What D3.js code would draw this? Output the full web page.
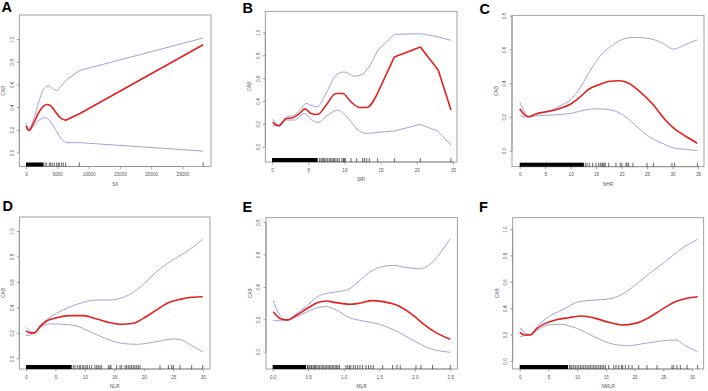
<!DOCTYPE html>
<html>
<head>
<meta charset="utf-8">
<script src="https://cdn.jsdelivr.net/npm/d3@7"></script>
<style>
  body { margin: 0; background: #fff; }
  svg { display: block; font-family: "Liberation Sans", Arial, sans-serif; }
</style>
</head>
<body>
<div id="chart"></div>
<script>
// ---- data: [x, y] pairs for fit and 95% band, rug positions ----

// A: SII
const aFit = [[0,0.234],[480,0.195],[1170,0.254],[2230,0.37],[3300,0.423],[3830,0.417],[4630,0.364],[5430,0.308],[6330,0.284],[8620,0.343],[28300,0.95]];
const aUpper = [[0,0.263],[480,0.21],[1170,0.284],[2130,0.46],[2770,0.556],[3560,0.586],[4250,0.565],[5000,0.544],[5430,0.574],[6490,0.639],[8510,0.722],[28300,1.009]];
const aLower = [[0,0.215],[480,0.19],[1170,0.23],[1970,0.278],[3030,0.308],[3560,0.293],[4630,0.21],[5430,0.136],[6330,0.086],[8620,0.086],[28300,0.012]];
const aDense = [0, 2800];
const aRug = [3030,3300,3720,3940,4200,4520,4890,5160,5320,5690,5960,6330,8510,28300];

// B: SRI
const bFit = [[0.09,0.212],[0.92,0.183],[1.93,0.244],[2.85,0.253],[3.78,0.29],[4.56,0.331],[5.39,0.29],[6.31,0.282],[7.46,0.363],[8.84,0.465],[9.76,0.465],[10.91,0.392],[12.06,0.343],[13.12,0.343],[14.6,0.47],[16.9,0.785],[20.49,0.872],[22.97,0.669],[24.72,0.32]];
const bUpper = [[0.09,0.238],[0.92,0.189],[1.93,0.256],[3.08,0.276],[4.01,0.334],[4.7,0.378],[5.39,0.363],[6.22,0.349],[7.46,0.465],[8.84,0.625],[9.99,0.654],[11.37,0.616],[12.29,0.625],[13.21,0.683],[14.6,0.843],[16.9,0.983],[20.58,0.988],[22.65,0.965],[24.72,0.93]];
const bLower = [[0.09,0.186],[0.92,0.18],[1.93,0.233],[3.08,0.233],[4.47,0.29],[5.39,0.238],[6.31,0.212],[7.69,0.276],[9.07,0.32],[9.99,0.285],[11.14,0.198],[12.06,0.137],[13.12,0.116],[14.6,0.125],[16.9,0.137],[20.44,0.195],[22.88,0.137],[24.72,0.015]];
const bDense = [0, 6.3];
const bRug = [6.54,6.77,6.91,7.09,7.27,7.46,7.69,7.92,8.1,8.29,8.47,8.66,8.84,9.07,9.3,9.67,9.85,9.99,10.13,10.91,11.69,12.52,12.75,13.08,13.44,14.6,16.9,20.49,24.72];

// C: NHR
const cFit = [[0,0.248],[0.98,0.212],[1.9,0.202],[3.07,0.216],[4.38,0.226],[6.34,0.236],[7.98,0.251],[9.94,0.275],[11.58,0.311],[13.54,0.364],[15.5,0.39],[17.46,0.41],[19.42,0.414],[21.39,0.4],[23.35,0.356],[25.96,0.281],[28.58,0.182],[30.22,0.133],[32.5,0.087],[34.86,0.044]];
const cUpper = [[0,0.287],[0.78,0.242],[1.77,0.198],[3.07,0.216],[4.38,0.228],[6.34,0.242],[8.31,0.271],[9.94,0.301],[11.58,0.36],[13.54,0.459],[15.5,0.549],[17.46,0.608],[19.42,0.648],[21.06,0.667],[22.7,0.671],[25.96,0.661],[27.93,0.638],[30.22,0.602],[32.5,0.628],[34.86,0.657]];
const cLower = [[0,0.208],[1.77,0.198],[3.07,0.206],[5.69,0.21],[7.98,0.214],[10.27,0.222],[12.88,0.242],[14.85,0.248],[16.81,0.246],[19.42,0.226],[21.39,0.186],[23.35,0.133],[25.96,0.073],[28.25,0.04],[30.22,0.016],[32.5,0.008],[34.86,0.0]];
const cDense = [0, 12.6];
const cRug = [12.88,13.21,13.67,14.32,14.98,15.5,15.83,16.15,16.35,16.55,16.81,17.46,18.9,19.75,20.08,20.86,21.06,21.39,22.24,24.98,26.29,29.89,30.41,34.92];

// D: NLR
const dFit = [[0,0.215],[0.68,0.2],[1.41,0.2],[2.38,0.249],[3.51,0.293],[5.21,0.319],[7.47,0.335],[9.73,0.335],[12.0,0.309],[14.26,0.28],[16.24,0.267],[18.22,0.275],[19.92,0.314],[22.18,0.38],[24.17,0.437],[26.15,0.463],[28.13,0.479],[30.0,0.484]];
const dUpper = [[0,0.243],[0.68,0.215],[1.41,0.2],[2.38,0.257],[4.07,0.322],[6.34,0.38],[9.17,0.432],[12.0,0.458],[14.26,0.458],[15.96,0.471],[17.94,0.51],[19.92,0.581],[22.18,0.681],[24.45,0.759],[27.28,0.838],[30.0,0.935]];
const dLower = [[0,0.178],[0.68,0.183],[1.41,0.196],[2.38,0.241],[4.07,0.27],[6.34,0.267],[8.6,0.254],[10.87,0.209],[13.7,0.152],[16.24,0.118],[18.79,0.11],[22.18,0.131],[25.0,0.152],[26.43,0.144],[28.13,0.099],[30.0,0.052]];
const dDense = [0, 7.75];
const dRug = [8.04,8.32,8.72,9.05,9.28,9.62,9.85,10.19,10.41,10.75,11.15,11.71,12.0,12.28,12.56,12.85,13.98,14.26,14.43,15.39,15.96,16.24,16.81,17.09,17.37,17.66,17.94,18.22,18.51,18.79,19.07,19.35,22.75,24.17,24.73,25.01,26.15,28.13,30.0];

// E: MLR
const eFit = [[0.009,0.247],[0.117,0.202],[0.211,0.196],[0.328,0.223],[0.492,0.268],[0.633,0.303],[0.75,0.313],[0.891,0.303],[1.079,0.293],[1.22,0.299],[1.407,0.315],[1.548,0.309],[1.735,0.289],[1.97,0.227],[2.111,0.175],[2.275,0.124],[2.5,0.076]];
const eUpper = [[0.009,0.313],[0.117,0.216],[0.211,0.196],[0.328,0.231],[0.469,0.278],[0.633,0.34],[0.774,0.361],[0.938,0.371],[1.079,0.388],[1.22,0.437],[1.36,0.489],[1.501,0.52],[1.689,0.532],[1.876,0.52],[2.064,0.511],[2.251,0.553],[2.392,0.629],[2.5,0.697]];
const eLower = [[0.009,0.192],[0.141,0.19],[0.235,0.196],[0.375,0.223],[0.516,0.252],[0.657,0.274],[0.75,0.278],[0.891,0.258],[1.079,0.21],[1.266,0.19],[1.501,0.169],[1.735,0.128],[1.97,0.072],[2.205,0.021],[2.5,-0.004]];
const eDense = [0, 0.47];
const eRug = [0.49,0.5,0.52,0.54,0.55,0.57,0.59,0.6,0.62,0.64,0.66,0.68,0.7,0.72,0.74,0.76,0.78,0.8,0.82,0.84,0.86,0.88,0.9,0.92,0.94,1.03,1.055,1.08,1.1,1.135,1.163,1.196,1.229,1.266,1.313,1.35,1.384,1.417,1.548,1.689,1.75,1.796,2.017,2.087,2.251,2.5];

// F: NMLR
const fFit = [[0,0.217],[0.87,0.197],[1.86,0.197],[3.02,0.247],[4.47,0.285],[6.21,0.311],[8.53,0.328],[10.85,0.341],[13.17,0.323],[15.5,0.293],[17.82,0.273],[20.14,0.285],[22.46,0.328],[24.78,0.391],[27.1,0.449],[29.14,0.475],[30.99,0.487]];
const fUpper = [[0,0.255],[0.87,0.215],[1.86,0.202],[3.02,0.26],[5.05,0.336],[7.37,0.386],[10.27,0.449],[13.17,0.462],[15.5,0.47],[17.82,0.505],[20.14,0.576],[22.46,0.659],[25.36,0.753],[28.26,0.854],[30.99,0.922]];
const fLower = [[0,0.184],[0.87,0.192],[1.86,0.197],[3.02,0.235],[5.05,0.273],[6.79,0.278],[9.11,0.26],[11.43,0.217],[13.76,0.167],[16.08,0.129],[18.98,0.116],[21.88,0.134],[24.78,0.152],[27.1,0.159],[29.14,0.109],[30.99,0.071]];
const fDense = [0, 8.4];
const fRug = [8.65,8.88,9.11,9.4,9.69,9.98,10.27,10.56,10.85,11.14,11.43,11.72,12.01,12.3,12.59,12.88,13.17,13.46,13.76,14.05,14.34,14.63,14.92,15.5,16.37,16.77,17.24,17.7,17.93,18.4,18.98,19.56,20.72,22.17,23.91,26.52,26.81,27.39,27.97,29.14,30.99];

// tick values
const aXTicks = [0, 5000, 10000, 15000, 20000, 25000];
const bXTicks = [0, 5, 10, 15, 20, 25];
const cXTicks = [0, 5, 10, 15, 20, 25, 30, 35];
const dXTicks = [0, 5, 10, 15, 20, 25, 30];
const eXTicks = [0, 0.5, 1.0, 1.5, 2.0, 2.5];
const fXTicks = [0, 5, 10, 15, 20, 25, 30];
const yTicks10 = [0, 0.2, 0.4, 0.6, 0.8, 1.0];
const yTicks08 = [0, 0.2, 0.4, 0.6, 0.8];

const W = 708, H = 391;
const svg = d3.select("#chart").append("svg").attr("width", W).attr("height", H);

// layout: box = [left, top, right, bottom] in px, xlim/ylim = plot region limits
// brk: beyond this x the data is sparse, so the curve is drawn as straight segments (as R does)
const panels = [
  {letter: "A", lx: 1.5, ly: 12, xlab: "SII", fit: aFit, up: aUpper, lo: aLower, dense: aDense, rug: aRug, brk: 6300,
   box: [19.3, 15, 211, 166.5], xlim: [-1070, 29553], ylim: [-0.124, 1.212], xt: aXTicks, yt: yTicks10, xf: d3.format("d")},
  {letter: "B", lx: 242.5, ly: 12.5, xlab: "SRI", fit: bFit, up: bUpper, lo: bLower, dense: bDense, rug: bRug, brk: 14.5,
   box: [265.3, 11.3, 457, 162], xlim: [-0.93, 25.55], ylim: [-0.134, 1.184], xt: bXTicks, yt: yTicks10, xf: d3.format("d")},
  {letter: "C", lx: 479.5, ly: 13.5, xlab: "NHR", fit: cFit, up: cUpper, lo: cLower, dense: cDense, rug: cRug, brk: null,
   box: [512, 15.3, 704, 166.7], xlim: [-1.51, 36.18], ylim: [-0.095, 0.802], xt: cXTicks, yt: yTicks08, xf: d3.format("d")},
  {letter: "D", lx: 2.5, ly: 211, xlab: "NLR", fit: dFit, up: dUpper, lo: dLower, dense: dDense, rug: dRug, brk: null,
   box: [19.3, 217, 210, 369], xlim: [-1.14, 31.24], ylim: [-0.084, 1.11], xt: dXTicks, yt: yTicks10, xf: d3.format("d")},
  {letter: "E", lx: 242.5, ly: 211.5, xlab: "MLR", fit: eFit, up: eUpper, lo: eLower, dense: eDense, rug: eRug, brk: null,
   box: [266, 217.7, 457.3, 369], xlim: [-0.094, 2.599], ylim: [-0.107, 0.827], xt: eXTicks, yt: yTicks08, xf: d3.format(".1f")},
  {letter: "F", lx: 479, ly: 211.5, xlab: "NMLR", fit: fFit, up: fUpper, lo: fLower, dense: fDense, rug: fRug, brk: null,
   box: [512.7, 217.7, 703.7, 369], xlim: [-1.22, 32.04], ylim: [-0.061, 1.086], xt: fXTicks, yt: yTicks10, xf: d3.format("d")}
];

const axisCol = "#8a8a8a", textCol = "#555", bandCol = "#a3a3d6", fitCol = "#e3211f";

panels.forEach(p => {
  const [L, T, R, B] = p.box;
  const x = d3.scaleLinear().domain(p.xlim).range([L, R]);
  const y = d3.scaleLinear().domain(p.ylim).range([B, T]);
  const g = svg.append("g");

  // panel letter
  g.append("text").attr("x", p.lx).attr("y", p.ly)
    .attr("font-size", 14.5).attr("font-weight", "bold").attr("fill", "#000")
    .text(p.letter);

  // box
  g.append("rect").attr("x", L).attr("y", T).attr("width", R - L).attr("height", B - T)
    .attr("fill", "none").attr("stroke", axisCol).attr("stroke-width", 0.8);

  // x axis
  const xa = g.append("g").attr("transform", `translate(0,${B})`)
    .call(d3.axisBottom(x).tickValues(p.xt).tickFormat(p.xf).tickSize(2.5).tickSizeOuter(0));
  xa.select(".domain").attr("stroke", axisCol).attr("stroke-width", 0.8)
    .attr("d", `M${x(p.xt[0])},0H${x(p.xt[p.xt.length - 1])}`);
  xa.selectAll(".tick line").attr("stroke", axisCol).attr("stroke-width", 0.8);
  xa.selectAll(".tick text").attr("y", 8.2).attr("dy", "0.35em")
    .attr("font-size", 4.6).attr("fill", textCol).attr("font-family", null);

  // y axis (labels parallel to axis like R)
  const ya = g.append("g").attr("transform", `translate(${L},0)`)
    .call(d3.axisLeft(y).tickValues(p.yt).tickFormat(d3.format(".1f")).tickSize(2.5).tickSizeOuter(0));
  ya.select(".domain").attr("stroke", axisCol).attr("stroke-width", 0.8)
    .attr("d", `M0,${y(p.yt[0])}V${y(p.yt[p.yt.length - 1])}`);
  ya.selectAll(".tick line").attr("stroke", axisCol).attr("stroke-width", 0.8);
  ya.selectAll(".tick text")
    .attr("x", null)
    .attr("transform", "translate(-7.2,0) rotate(-90)")
    .attr("dy", "0.35em").attr("text-anchor", "middle")
    .attr("font-size", 4.6).attr("fill", textCol).attr("font-family", null);

  // axis titles
  g.append("text").attr("x", (L + R) / 2).attr("y", B + 17.5).attr("dy", "0.35em")
    .attr("text-anchor", "middle").attr("font-size", 4.8).attr("fill", textCol).text(p.xlab);
  g.append("text").attr("transform", `translate(${L - 15.5},${(T + B) / 2}) rotate(-90)`)
    .attr("dy", "0.35em").attr("text-anchor", "middle").attr("font-size", 4.8).attr("fill", textCol).text("CAB");

  // rug
  g.append("rect").attr("x", x(p.dense[0])).attr("y", B - 4)
    .attr("width", x(p.dense[1]) - x(p.dense[0])).attr("height", 4).attr("fill", "#000");
  g.selectAll(".rug").data(p.rug).enter().append("line")
    .attr("x1", d => x(d)).attr("x2", d => x(d))
    .attr("y1", B).attr("y2", B - 4)
    .attr("stroke", "#000").attr("stroke-width", 0.6);

  const smooth = d3.line().x(d => x(d[0])).y(d => y(d[1])).curve(d3.curveMonotoneX);
  const straight = d3.line().x(d => x(d[0])).y(d => y(d[1]));

  function drawSeries(s, col, w) {
    let pathD;
    if (p.brk == null) {
      pathD = smooth(s);
    } else {
      const i = s.findIndex(d => d[0] >= p.brk);
      pathD = smooth(s.slice(0, i + 1)) + straight(s.slice(i)).replace(/^M/, "L");
    }
    g.append("path").attr("d", pathD)
      .attr("fill", "none").attr("stroke", col).attr("stroke-width", w)
      .attr("stroke-linejoin", "round");
  }

  drawSeries(p.up, bandCol, 1);
  drawSeries(p.lo, bandCol, 1);
  drawSeries(p.fit, fitCol, 1.6);
});
</script>
</body>
</html>
